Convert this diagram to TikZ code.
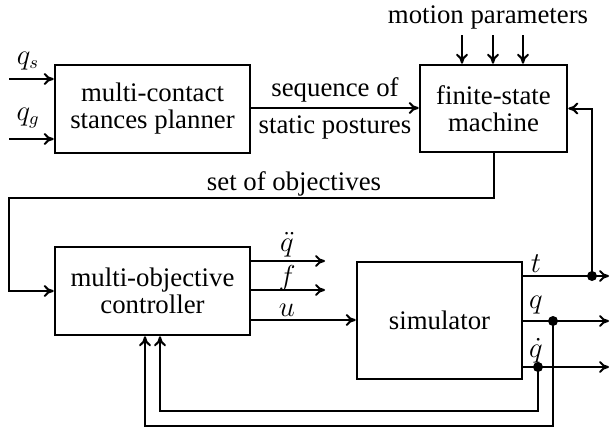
\documentclass[tikz,border=0pt]{standalone}
\usepackage{fontspec}
\setmainfont{LiberationSerif}[Extension=.ttf,UprightFont=*-Regular,BoldFont=*-Bold,ItalicFont=*-Italic,BoldItalicFont=*-BoldItalic]
\usetikzlibrary{arrows.meta}
\begin{document}
\begin{tikzpicture}[x=0.5pt,y=-0.5pt,
  box/.style={draw,line width=1.3pt,inner sep=0pt,align=center},
  arr/.style={line width=1pt,-{To[length=5pt,width=6pt]}},
  lbl/.style={inner sep=0pt},
  dot/.style={circle,fill,inner sep=0pt,minimum size=5pt},
  every node/.style={font=\fontsize{13.4}{13.5}\selectfont}]
\useasboundingbox (0,0) rectangle (610,428);
% boxes
\node[box,minimum width=97.5pt,minimum height=44pt] (planner) at (152.5,109) {multi-contact\\stances planner};
\node[box,minimum width=73.5pt,minimum height=43.5pt] (fsm) at (493.5,108.5) {finite-state\\machine};
\node[box,minimum width=97.5pt,minimum height=44pt] (ctrl) at (152.5,291) {multi-objective\\controller};
\node[box,minimum width=82.5pt,minimum height=58.5pt] (sim) at (439.5,320.5) {simulator};
% inputs
\coordinate (qsin) at (9,79);
\coordinate (qgin) at (9,139);
\draw[arr] (qsin) -- (qsin -| planner.west);
\draw[arr] (qgin) -- (qgin -| planner.west);
\node[lbl] (qs) at (28,61) {$q_s$};
\node[lbl] (qg) at (28,118) {$q_g$};
% sequence
\coordinate (seqy) at (0,108);
\draw[arr] (planner.east |- seqy) -- (fsm.west |- seqy);
\node[lbl] (seq1) at (335,90) {sequence of};
\node[lbl] (seq2) at (335,127) {static postures};
% motion parameters
\node[lbl] (mp) at (488,17) {motion parameters};
\foreach \x/\n in {462/1,493/2,523/3}{
  \coordinate (mp\n) at (\x,35);
  \draw[arr] (mp\n) -- (mp\n |- fsm.north);
}
% objectives
\coordinate (objc) at (9,198);
\draw[arr] (fsm.south) |- (objc) |- (ctrl.west);
\node[lbl] (obj) at (294,184) {set of objectives};
% controller outputs
\coordinate (qddend) at (325,261);
\coordinate (fend) at (325,290);
\coordinate (uy) at (0,320);
\draw[arr] (ctrl.east |- qddend) -- (qddend);
\draw[arr] (ctrl.east |- fend) -- (fend);
\draw[arr] (ctrl.east |- uy) -- (sim.west |- uy);
\node[lbl] (qddl) at (287,245) {$\ddot q$};
\node[lbl] (fl) at (287,278) {$f$};
\node[lbl] (ul) at (287,310) {$u$};
% simulator outputs
\coordinate (tend) at (609,276);
\coordinate (qend) at (609,321);
\coordinate (qdend) at (609,367);
\draw[arr] (sim.east |- tend) -- (tend);
\draw[arr] (sim.east |- qend) -- (qend);
\draw[arr] (sim.east |- qdend) -- (qdend);
\node[lbl] (tl) at (536,264) {$t$};
\node[lbl] (ql) at (536,305) {$q$};
\node[lbl] (qdl) at (536,351) {$\dot q$};
% branch t to fsm
\node[dot] (dt) at (592,276) {};
\draw[arr] (dt.center) -- (dt.center |- fsm.east) -- (fsm.east);
% feedback
\node[dot] (dq) at (553,321) {};
\node[dot] (dqd) at (538,367) {};
\coordinate (fbqd) at (160,411);
\coordinate (fbq) at (145,426);
\draw[arr] (dqd.center) |- (fbqd) -- (fbqd |- ctrl.south);
\draw[arr] (dq.center) |- (fbq) -- (fbq |- ctrl.south);
\end{tikzpicture}
\end{document}
